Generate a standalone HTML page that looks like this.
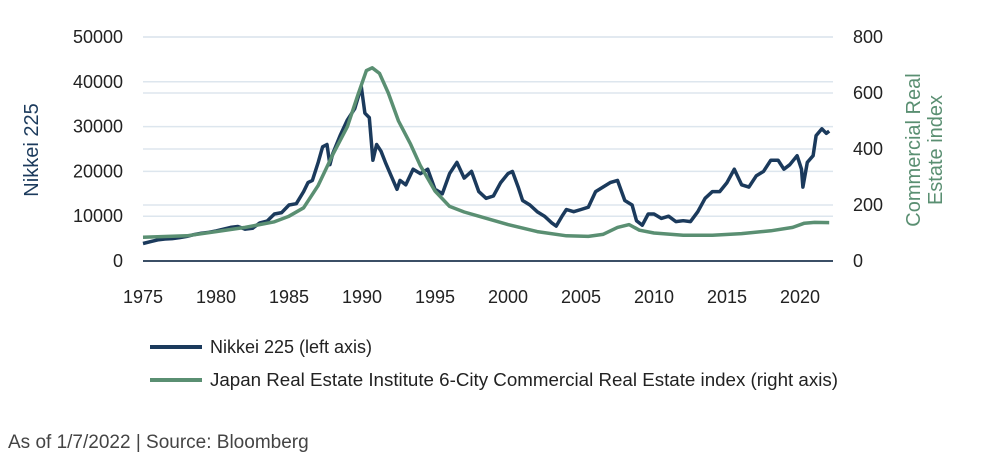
<!DOCTYPE html>
<html><head><meta charset="utf-8"><style>
body{margin:0;background:#fff;font-family:"Liberation Sans",sans-serif}
svg text{font-family:"Liberation Sans",sans-serif}
</style></head><body>
<svg id="c" width="1000" height="458">
<g id="grid"></g><g id="marks"></g><g id="axes"></g>
<text transform="translate(38,150) rotate(-90)" text-anchor="middle" font-size="20" fill="#1b3a5c">Nikkei 225</text>
<text transform="translate(928,150) rotate(-90)" text-anchor="middle" font-size="20" fill="#5a8f72"><tspan x="0" dy="-8">Commercial Real</tspan><tspan x="0" dy="22">Estate index</tspan></text>
<g>
<line x1="150" y1="347" x2="202" y2="347" stroke="#1b3a5c" stroke-width="4"/>
<text x="210" y="353" font-size="18" fill="#222">Nikkei 225 (left axis)</text>
<line x1="150" y1="380" x2="202" y2="380" stroke="#5a8f72" stroke-width="4"/>
<text x="210" y="386" font-size="18" fill="#222" textLength="628" lengthAdjust="spacingAndGlyphs">Japan Real Estate Institute 6-City Commercial Real Estate index (right axis)</text>
</g>
<text x="8" y="448" font-size="19" fill="#444">As of 1/7/2022 | Source: Bloomberg</text>
</svg>
<script>
const nikkeiYears=[1975,1975.5,1976,1976.5,1977,1977.5,1978,1978.5,1979,1979.5,1980,1980.5,1981,1981.5,1982,1982.5,1983,1983.5,1984,1984.5,1985,1985.5,1986,1986.3,1986.6,1987,1987.3,1987.6,1987.8,1988,1988.5,1989,1989.5,1989.95,1990.2,1990.5,1990.75,1991,1991.3,1991.6,1992,1992.4,1992.6,1993,1993.5,1994,1994.5,1995,1995.5,1996,1996.5,1997,1997.5,1998,1998.5,1999,1999.5,2000,2000.3,2000.7,2001,2001.5,2002,2002.5,2003,2003.3,2003.7,2004,2004.5,2005,2005.5,2006,2006.5,2007,2007.5,2008,2008.5,2008.8,2009.2,2009.6,2010,2010.5,2011,2011.5,2012,2012.5,2013,2013.5,2014,2014.5,2015,2015.5,2016,2016.5,2017,2017.5,2018,2018.5,2018.9,2019.3,2019.8,2020.1,2020.2,2020.5,2020.9,2021.1,2021.5,2021.8,2022];
const nikkeiValues=[3900,4300,4700,4900,5000,5200,5500,5900,6200,6400,6700,7100,7500,7700,7100,7300,8500,8900,10500,10800,12500,12800,15500,17500,18000,22000,25500,26000,21500,24000,28000,31500,34000,38900,33000,32000,22500,26000,24500,22000,19000,16000,18000,17000,20500,19500,20500,16000,15000,19500,22000,18500,20000,15500,14000,14500,17500,19500,20000,16500,13500,12500,11000,10000,8500,7800,10000,11500,11000,11500,12000,15500,16500,17500,18000,13500,12500,9000,8000,10500,10500,9500,10000,8800,9000,8800,11000,14000,15500,15500,17500,20500,17000,16500,19000,20000,22500,22500,20500,21500,23500,20500,16500,22000,23500,28000,29500,28500,29000];
const reYears=[1975,1978,1980,1982,1984,1985,1986,1987,1988,1989,1989.7,1990.3,1990.7,1991.2,1991.8,1992.5,1993.3,1994,1995,1996,1997,1998,2000,2002,2004,2005.5,2006.5,2007.5,2008.3,2009,2010,2012,2014,2016,2018,2019.5,2020.3,2021,2022];
const reValues=[85,90,105,120,140,160,190,270,380,480,590,680,690,670,600,500,420,340,250,195,175,160,130,105,90,88,95,120,130,110,100,92,92,98,108,120,135,138,137];
const xTicks=[1975,1980,1985,1990,1995,2000,2005,2010,2015,2020];
const leftTicks=[0,10000,20000,30000,40000,50000];
const rightTicks=[0,200,400,600,800];
const x=v=>143+(v-1975)*(800-143)/45;
const yL=v=>261-v*(224/50000);
const yR=v=>261-v*(224/800);
const NS="http://www.w3.org/2000/svg";
function mk(t,a,p){const e=document.createElementNS(NS,t);for(const k in a)e.setAttribute(k,a[k]);p.appendChild(e);return e;}
const grid=document.getElementById('grid'),axes=document.getElementById('axes'),marks=document.getElementById('marks');
leftTicks.forEach(t=>{if(t>0){const l=mk('line',{x1:143,x2:833,y1:yL(t),y2:yL(t),stroke:'#dde6ee','stroke-width':1.5},grid);

}
const tx=mk('text',{x:123,y:yL(t)+6,'text-anchor':'end','font-size':18,fill:'#222'},axes);tx.textContent=t;

});
rightTicks.forEach(t=>{if(t>0){const l=mk('line',{x1:143,x2:833,y1:yR(t),y2:yR(t),stroke:'#dde6ee','stroke-width':1.5},grid);

}
const tx=mk('text',{x:853,y:yR(t)+6,'font-size':18,fill:'#222'},axes);tx.textContent=t;

});
xTicks.forEach(t=>{const tx=mk('text',{x:x(t),y:303,'text-anchor':'middle','font-size':18,fill:'#222'},axes);tx.textContent=t;

});
const ax=mk('line',{x1:143,x2:833,y1:261,y2:261,stroke:'#3b4f66','stroke-width':2},axes);


const re=mk('path',{d:reYears.map((v,i)=>(i?'L':'M')+x(v).toFixed(1)+','+yR(reValues[i]).toFixed(1)).join(''),fill:'none',stroke:'#5a8f72','stroke-width':3.5,'stroke-linejoin':'round'},marks);


const nk=mk('path',{d:nikkeiYears.map((v,i)=>(i?'L':'M')+x(v).toFixed(1)+','+yL(nikkeiValues[i]).toFixed(1)).join(''),fill:'none',stroke:'#1b3a5c','stroke-width':3.5,'stroke-linejoin':'round'},marks);


marks.appendChild(re);
</script>
</body></html>
